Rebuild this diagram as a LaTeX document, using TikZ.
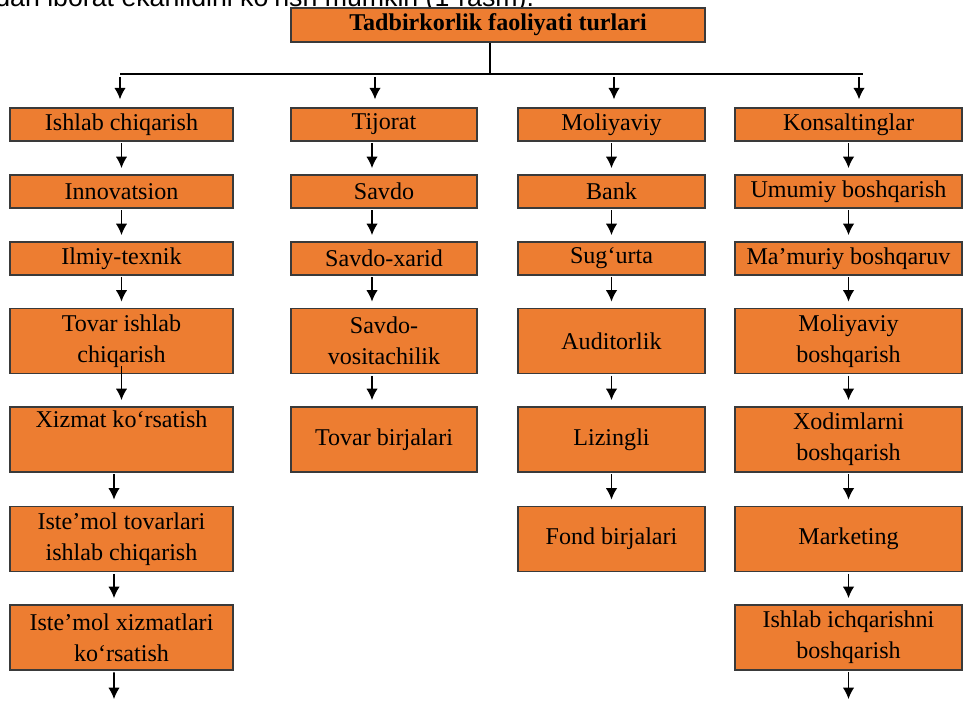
\documentclass[tikz,border=0pt]{standalone}
\usepackage{fontspec}
\setmainfont{Liberation Serif}
\newfontfamily\introfont{Liberation Sans}
\usetikzlibrary{arrows.meta}
\definecolor{boxorange}{HTML}{ED7D31}
\definecolor{boxline}{HTML}{3A3A3A}
\tikzset{
  arr/.style={-{Latex[length=6.5pt,width=6.5pt]}, line width=1pt, shorten <=1pt, shorten >=3.5pt},
}

\begin{document}
\begin{tikzpicture}[
    x=0.02cm, y=-0.02cm,
    box/.style={draw=boxline, fill=boxorange, line width=0.8pt, inner sep=0pt, align=center,
                font=\fontsize{13.7}{17.5}\selectfont, minimum height=0.66cm},
    tall/.style={box, minimum height=1.3cm},
    colI/.style={minimum width=4.46cm},
    colT/.style={minimum width=3.72cm},
    colM/.style={minimum width=3.74cm},
    colK/.style={minimum width=4.54cm},
    bus/.style={line width=0.7pt}
]
    \clip (0,0) rectangle (963,700);
    %\draw[very thin,color=gray] (0,0) grid[step=50] (963,700);

    \node[anchor=base west, inner sep=0pt, font=\introfont\fontsize{15.2}{18}\selectfont] (intro) at (-5,6)
        {dan iborat ekanlidini ko‘rish mumkin (1-rasm).};

    \node[box, minimum width=8.28cm, minimum height=0.68cm,
          font=\bfseries\fontsize{13.7}{17.5}\selectfont] (turlar) at (498,25) {Tadbirkorlik faoliyati turlari};

    %ishlab chiqarish
    \node[box, colI]  (i1) at (121.5,124.5) {Ishlab chiqarish};
    \node[box, colI]  (i2) at (121.5,191.5) {Innovatsion};
    \node[box, colI]  (i3) at (121.5,258.5) {Ilmiy-texnik};
    \node[tall, colI] (i4) at (121.5,341)   {Tovar ishlab\\chiqarish};
    \node[tall, colI] (i5) at (121.5,439.5) {Xizmat ko‘rsatish\\\strut};
    \node[tall, colI] (i6) at (121.5,539)   {Iste’mol tovarlari\\ishlab chiqarish};
    \node[tall, colI] (i7) at (121.5,637.5) {Iste’mol xizmatlari\\ko‘rsatish};

    %tijorat
    \node[box, colT]  (t1) at (384,124.5) {Tijorat};
    \node[box, colT]  (t2) at (384,191.5) {Savdo};
    \node[box, colT]  (t3) at (384,258.5) {Savdo-xarid};
    \node[tall, colT] (t4) at (384,341)   {Savdo-\\vositachilik};
    \node[tall, colT] (t5) at (384,439.5) {Tovar birjalari};

    %moliyaviy
    \node[box, colM]  (m1) at (611.5,124.5) {Moliyaviy};
    \node[box, colM]  (m2) at (611.5,191.5) {Bank};
    \node[box, colM]  (m3) at (611.5,258.5) {Sug‘urta};
    \node[tall, colM] (m4) at (611.5,341)   {Auditorlik};
    \node[tall, colM] (m5) at (611.5,439.5) {Lizingli};
    \node[tall, colM] (m6) at (611.5,539)   {Fond birjalari};

    %konsalting
    \node[box, colK]  (k1) at (848.5,124.5) {Konsaltinglar};
    \node[box, colK]  (k2) at (848.5,191.5) {Umumiy boshqarish};
    \node[box, colK]  (k3) at (848.5,258.5) {Ma’muriy boshqaruv};
    \node[tall, colK] (k4) at (848.5,341)   {Moliyaviy\\boshqarish};
    \node[tall, colK] (k5) at (848.5,439.5) {Xodimlarni\\boshqarish};
    \node[tall, colK] (k6) at (848.5,539)   {Marketing};
    \node[tall, colK] (k7) at (848.5,637.5) {Ishlab ichqarishni\\boshqarish};

    % shina
    \coordinate (busL) at (120,74);
    \coordinate (busR) at (863,74);
    \draw[bus] ([xshift=-0.16cm]turlar.south) -- ([xshift=-0.16cm]turlar.south |- busL);
    \draw[bus] (busL) -- (busR);
    \foreach \n/\s in {i1/-0.03, t1/-0.18, m1/0.05, k1/0.21}
        \draw[arr, shorten <=1.7pt, shorten >=4.5pt] ([xshift=\s cm]\n.north |- busL) -- ([xshift=\s cm]\n.north);

    % ustunlar
    \foreach \a/\b in {i1/i2, i2/i3, i3/i4, m1/m2, m2/m3, m3/m4, m4/m5, m5/m6,
                       k1/k2, k2/k3, k3/k4, k4/k5, k5/k6, k6/k7}
        \draw[arr] (\a) -- (\b);
    \draw[arr, shorten <=-0.16cm] (i4) -- (i5);
    \foreach \a/\b in {i5/i6, i6/i7}
        \draw[arr] ([xshift=-0.15cm]\a.south) -- ([xshift=-0.15cm]\b.north);
    \foreach \a/\b in {t1/t2, t2/t3, t3/t4, t4/t5}
        \draw[arr] ([xshift=-0.24cm]\a.south) -- ([xshift=-0.24cm]\b.north);

    \coordinate (iEnd) at (114,700);
    \coordinate (kEnd) at (848.5,700);
    \draw[arr, shorten >=0.5pt] ([xshift=-0.15cm]i7.south) -- (iEnd);
    \draw[arr, shorten >=0.5pt] (k7) -- (kEnd);
\end{tikzpicture}
\end{document}
